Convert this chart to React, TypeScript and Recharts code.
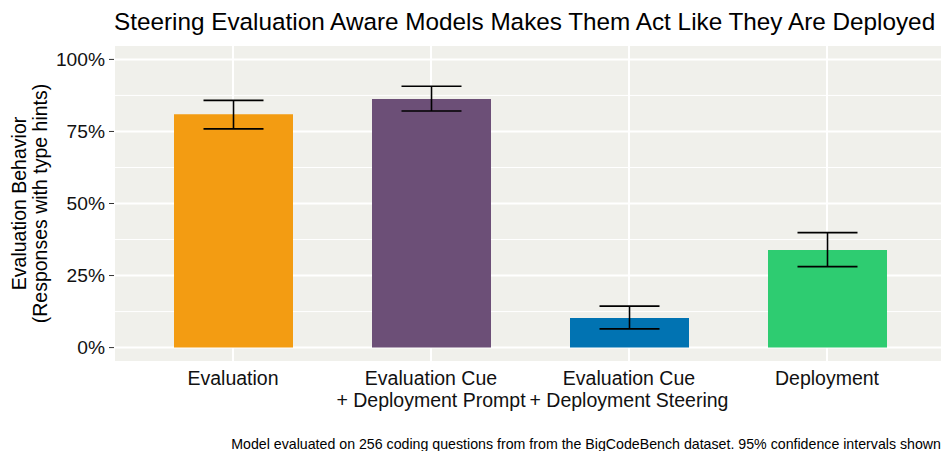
import React from 'react';
import { BarChart, Bar, XAxis, YAxis, CartesianGrid, ErrorBar, Cell } from 'recharts';

const categories = [
  'Evaluation',
  'Evaluation Cue\n+ Deployment Prompt',
  'Evaluation Cue\n+ Deployment Steering',
  'Deployment',
];
const values = [0.81, 0.863, 0.103, 0.339];
const lower = [0.759, 0.821, 0.065, 0.281];
const upper = [0.858, 0.907, 0.144, 0.399];
const colors = ['#F39C12', '#6C4F77', '#0173B2', '#2ECC71'];
const yTicks = [0, 0.25, 0.5, 0.75, 1];
const yMinorTicks = [0.125, 0.375, 0.625, 0.875];

const title = 'Steering Evaluation Aware Models Makes Them Act Like They Are Deployed';
const yLabel1 = 'Evaluation Behavior';
const yLabel2 = '(Responses with type hints)';
const caption =
  'Model evaluated on 256 coding questions from from the BigCodeBench dataset. 95% confidence intervals shown';

const FONT = '"Liberation Sans", Arial, Helvetica, sans-serif';

const data = categories.map((c, i) => ({
  name: c,
  value: values[i],
  err: [values[i] - lower[i], upper[i] - values[i]],
}));

const XTick = (props: any) => {
  const { x, y, payload } = props;
  const lines = String(payload.value).split('\n');
  return (
    <text x={x} y={y} textAnchor="middle" fontSize={19.5} fill="#111" fontFamily={FONT}>
      {lines.map((l, i) => (
        <tspan key={i} x={x} dy={i === 0 ? 15 : 21.5}>
          {l}
        </tspan>
      ))}
    </text>
  );
};

const YTick = (props: any) => {
  const { x, y, payload } = props;
  return (
    <text x={x} y={y} dy={6.5} textAnchor="end" fontSize={19.2} fill="#111" fontFamily={FONT}>
      {`${Math.round(payload.value * 100)}%`}
    </text>
  );
};

export default function App() {
  return (
    <div style={{ position: 'absolute', left: 0, top: 0, width: 941, height: 451, overflow: 'hidden', background: '#fff' }}>
      <BarChart
        width={946}
        height={451}
        data={data}
        margin={{ top: 45, right: 0, bottom: 0, left: 0 }}
        barSize={119}
      >
        <CartesianGrid
          yAxisId="minor"
          horizontal={true}
          vertical={false}
          stroke="#ffffff"
          strokeWidth={1}
          fill="#F0F0EB"
          fillOpacity={1}
        />
        <CartesianGrid yAxisId="main" stroke="#ffffff" strokeWidth={2} />
        <XAxis
          dataKey="name"
          height={89}
          padding={{ left: 20, right: 20 }}
          axisLine={false}
          tickLine={false}
          interval={0}
          tick={<XTick />}
        />
        <YAxis
          yAxisId="main"
          width={114}
          domain={[-0.05, 1.05]}
          ticks={yTicks}
          allowDataOverflow={true}
          axisLine={false}
          tickLine={{ stroke: '#333333', strokeWidth: 1 }}
          tickSize={5}
          tickMargin={4}
          tick={<YTick />}
        />
        <YAxis
          yAxisId="minor"
          hide={true}
          domain={[-0.05, 1.05]}
          ticks={yMinorTicks}
          allowDataOverflow={true}
        />
        <Bar yAxisId="main" dataKey="value" isAnimationActive={false}>
          {data.map((d, i) => (
            <Cell key={i} fill={colors[i]} />
          ))}
          <ErrorBar dataKey="err" width={30} stroke="#000000" strokeWidth={1.6} direction="y" />
        </Bar>
      </BarChart>
      <svg
        width={941}
        height={451}
        style={{ position: 'absolute', left: 0, top: 0, pointerEvents: 'none' }}
      >
        <text x={114} y={30} fontSize={24.3} fill="#000" fontFamily={FONT} textAnchor="start">
          {title}
        </text>
        <text
          transform="translate(25.5,203.5) rotate(-90)"
          fontSize={19.5}
          fill="#000"
          fontFamily={FONT}
          textAnchor="middle"
        >
          {yLabel1}
        </text>
        <text
          transform="translate(47,203.5) rotate(-90)"
          fontSize={19.5}
          fill="#000"
          fontFamily={FONT}
          textAnchor="middle"
        >
          {yLabel2}
        </text>
        <text x={941} y={449} fontSize={14.2} fill="#000" fontFamily={FONT} textAnchor="end">
          {caption}
        </text>
      </svg>
    </div>
  );
}
